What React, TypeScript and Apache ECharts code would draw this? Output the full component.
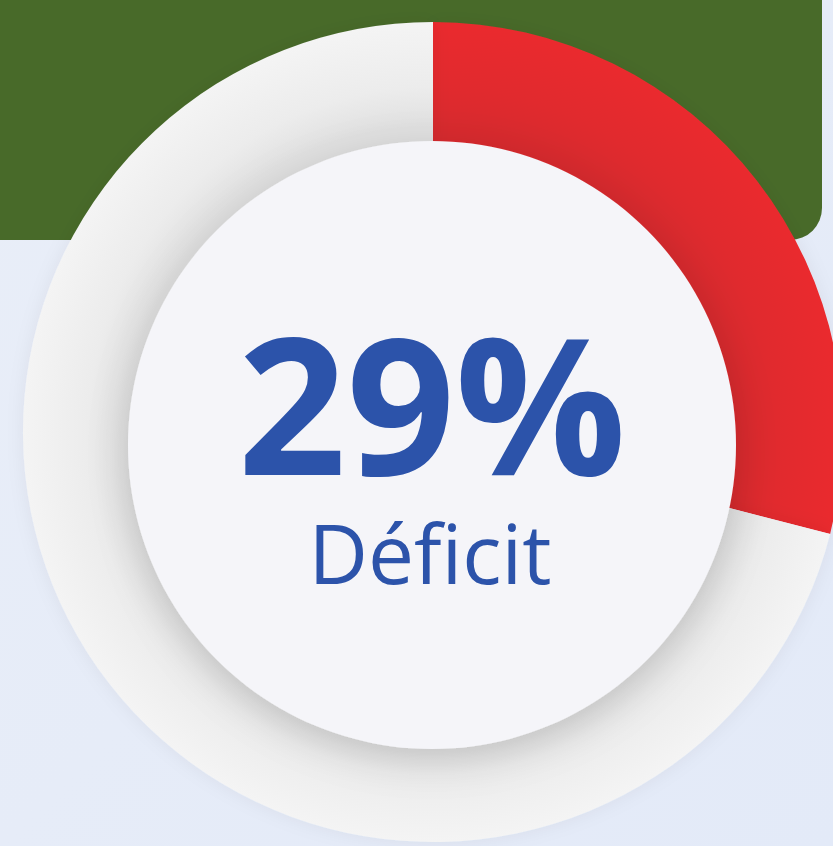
import React, { useEffect, useRef } from "react";
import * as echarts from "echarts";

const categories = ["Déficit", "Reste"];
const values = [29, 71];
const mainLabel = "Déficit";

const CX = 433;
const CY = 432;
const R_IN = 290;
const R_OUT = 410;
const DISC_CX = 432;
const DISC_CY = 445;
const DISC_R = 304;

export default function App() {
  const ref = useRef<HTMLDivElement>(null);
  useEffect(() => {
    if (!ref.current) return;
    const chart = echarts.init(ref.current, null, { renderer: "svg" });
    const ringStops = (inner: string, mid: string, outer: string) => [
      { offset: 0, color: inner },
      { offset: (R_IN + 15) / R_OUT, color: inner },
      { offset: (R_IN + 55) / R_OUT, color: mid },
      { offset: 1, color: outer },
    ];
    chart.setOption({
      animation: false,
      backgroundColor: {
        type: "linear",
        x: 0,
        y: 0,
        x2: 1,
        y2: 1,
        colorStops: [
          { offset: 0, color: "#e9eef8" },
          { offset: 1, color: "#e3eaf8" },
        ],
      },
      graphic: [
        {
          type: "rect",
          z: 0,
          shape: { x: 0, y: 0, width: 822, height: 240, r: [0, 0, 32, 0] },
          style: { fill: "#486a29" },
        },
        {
          type: "circle",
          z: 10,
          shape: { cx: DISC_CX, cy: DISC_CY, r: DISC_R },
          style: {
            fill: "#f5f5f9",
            shadowBlur: 40,
            shadowColor: "rgba(0,0,0,0.15)",
            shadowOffsetY: 10,
          },
        },
        {
          type: "text",
          z: 11,
          x: DISC_CX,
          y: 401,
          style: {
            text: `${values[0]}%`,
            fill: "#2c53aa",
            font: "bold 190px 'Open Sans'",
            lineHeight: 150,
            align: "center",
            verticalAlign: "middle",
          },
        },
        {
          type: "text",
          z: 11,
          x: DISC_CX - 2,
          y: 552,
          style: {
            text: mainLabel,
            fill: "#2c53aa",
            font: "82px 'Open Sans'",
            lineHeight: 80,
            align: "center",
            verticalAlign: "middle",
          },
        },
      ],
      series: [
        {
          type: "pie",
          z: 2,
          center: [CX, CY],
          radius: [R_IN, R_OUT],
          startAngle: 90,
          clockwise: true,
          label: { show: false },
          labelLine: { show: false },
          emphasis: { disabled: true },
          itemStyle: {
            shadowBlur: 18,
            shadowColor: "rgba(0,0,0,0.06)",
          },
          data: categories.map((name, i) => ({
            name,
            value: values[i],
            itemStyle: {
              color: {
                type: "radial",
                x: CX,
                y: CY,
                r: R_OUT,
                global: true,
                colorStops:
                  i === 0
                    ? ringStops("#d82a2d", "#e12a2e", "#ea2b2f")
                    : ringStops("#e0e0e0", "#ececec", "#f4f4f4"),
              },
            },
          })),
        },
      ],
    });
    return () => chart.dispose();
  }, []);
  return (
    <div
      ref={ref}
      style={{ position: "absolute", left: 0, top: 0, width: 833, height: 846 }}
    />
  );
}
